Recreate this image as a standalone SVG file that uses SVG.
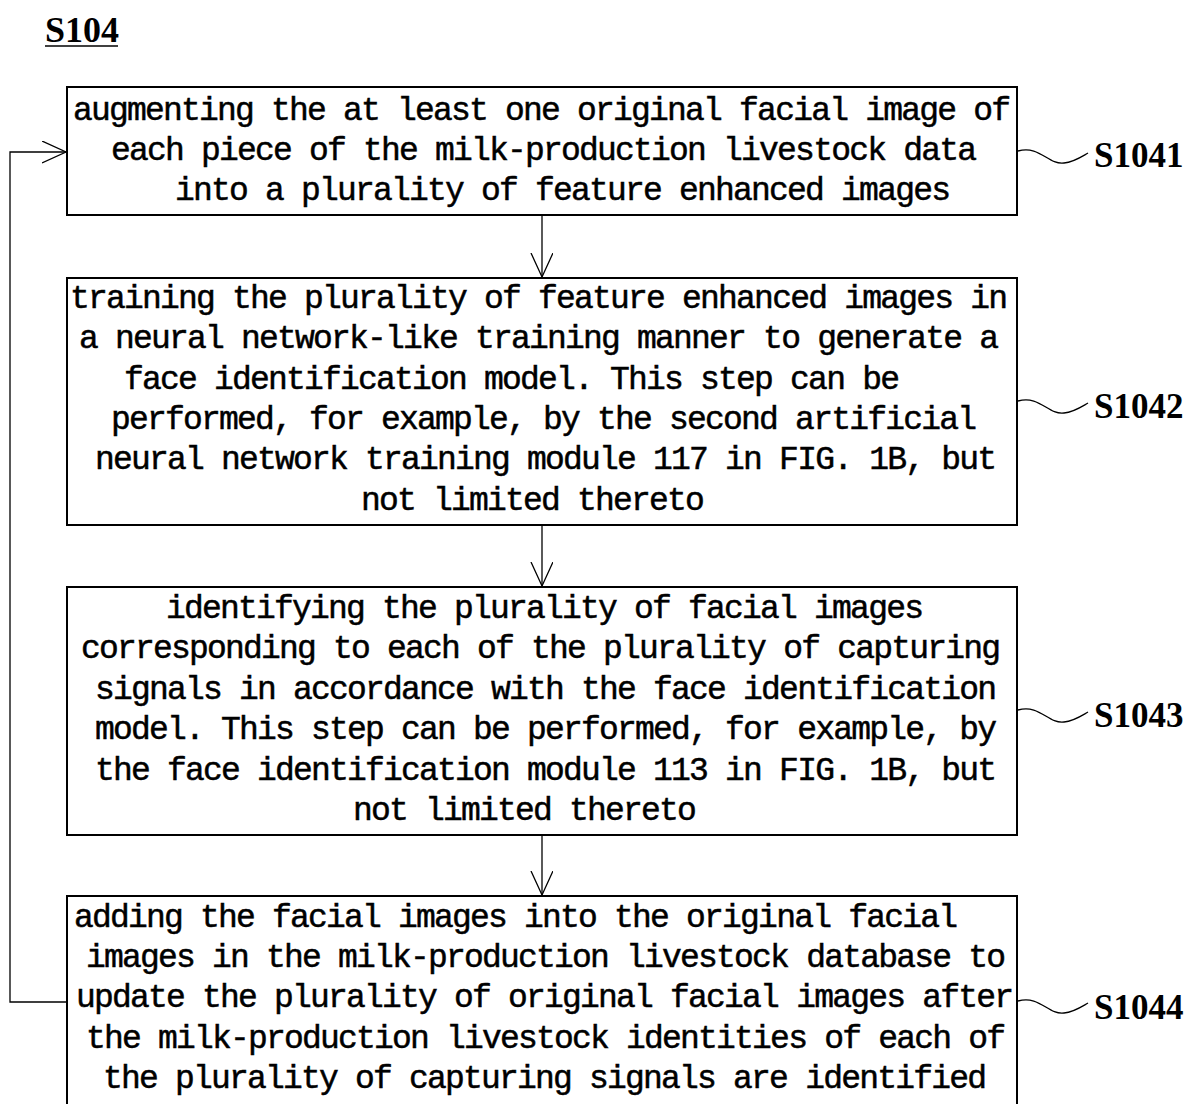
<svg xmlns="http://www.w3.org/2000/svg" width="1189" height="1104" viewBox="0 0 1189 1104">
<style>
.box{fill:#fff;stroke:#000;stroke-width:2}
.t{font-family:"Liberation Mono","Courier New",monospace;font-size:33px;letter-spacing:-1.8px;fill:#000;stroke:#000;stroke-width:0.5}
.lbl{font-family:"Liberation Serif","Times New Roman",serif;font-weight:bold;font-size:35px;fill:#000}
.c{fill:none;stroke:#000;stroke-width:1.3}
</style>
<defs>
<marker id="ah" markerWidth="30" markerHeight="30" refX="24" refY="11" orient="auto" markerUnits="userSpaceOnUse">
<path d="M0,0 L24,11 L0,22" fill="none" stroke="#000" stroke-width="1.3"/>
</marker>
</defs>
<rect width="1189" height="1104" fill="#fff"/>
<g id="title">
<text class="lbl" x="45" y="42" style="font-size:36px">S104</text>
<line x1="45" y1="46" x2="118" y2="46" stroke="#000" stroke-width="1.5"/>
</g>
<g id="connectors">
<line class="c" x1="542" y1="215" x2="542" y2="277" marker-end="url(#ah)"/>
<line class="c" x1="542" y1="525" x2="542" y2="586" marker-end="url(#ah)"/>
<line class="c" x1="542" y1="835" x2="542" y2="895" marker-end="url(#ah)"/>
<path class="c" d="M67,1002 H10 V152 H66" marker-end="url(#ah)"/>
</g>
<g id="S1041">
<rect class="box" x="67" y="87" width="950" height="128"/>
<text class="t" x="73" y="120">augmenting the at least one original facial image of</text>
<text class="t" x="111" y="160">each piece of the milk-production livestock data</text>
<text class="t" x="175" y="200">into a plurality of feature enhanced images</text>
<path class="c" d="M1018,151 C1040,145 1048,165 1064,163 C1074,162 1081,157 1088,153"/>
<text class="lbl" x="1094" y="167">S1041</text>
</g>
<g id="S1042">
<rect class="box" x="67" y="278" width="950" height="247"/>
<text class="t" x="70" y="308">training the plurality of feature enhanced images in</text>
<text class="t" x="79" y="348">a neural network-like training manner to generate a</text>
<text class="t" x="124" y="389">face identification model. This step can be</text>
<text class="t" x="111" y="429">performed, for example, by the second artificial</text>
<text class="t" x="95" y="469">neural network training module 117 in FIG. 1B, but</text>
<text class="t" x="361" y="510">not limited thereto</text>
<path class="c" d="M1018,401 C1040,395 1048,415 1064,413 C1074,412 1081,407 1088,403"/>
<text class="lbl" x="1094" y="418">S1042</text>
</g>
<g id="S1043">
<rect class="box" x="67" y="587" width="950" height="248"/>
<text class="t" x="166" y="618">identifying the plurality of facial images</text>
<text class="t" x="81" y="658">corresponding to each of the plurality of capturing</text>
<text class="t" x="95" y="699">signals in accordance with the face identification</text>
<text class="t" x="95" y="739">model. This step can be performed, for example, by</text>
<text class="t" x="95" y="780">the face identification module 113 in FIG. 1B, but</text>
<text class="t" x="353" y="820">not limited thereto</text>
<path class="c" d="M1018,710 C1040,704 1048,724 1064,722 C1074,721 1081,716 1088,712"/>
<text class="lbl" x="1094" y="727">S1043</text>
</g>
<g id="S1044">
<rect class="box" x="67" y="896" width="950" height="220"/>
<text class="t" x="74" y="927">adding the facial images into the original facial</text>
<text class="t" x="86" y="967">images in the milk-production livestock database to</text>
<text class="t" x="76" y="1007">update the plurality of original facial images after</text>
<text class="t" x="86" y="1048">the milk-production livestock identities of each of</text>
<text class="t" x="103" y="1088">the plurality of capturing signals are identified</text>
<path class="c" d="M1018,1001 C1040,995 1048,1015 1064,1013 C1074,1012 1081,1007 1088,1003"/>
<text class="lbl" x="1094" y="1019">S1044</text>
</g>
</svg>
